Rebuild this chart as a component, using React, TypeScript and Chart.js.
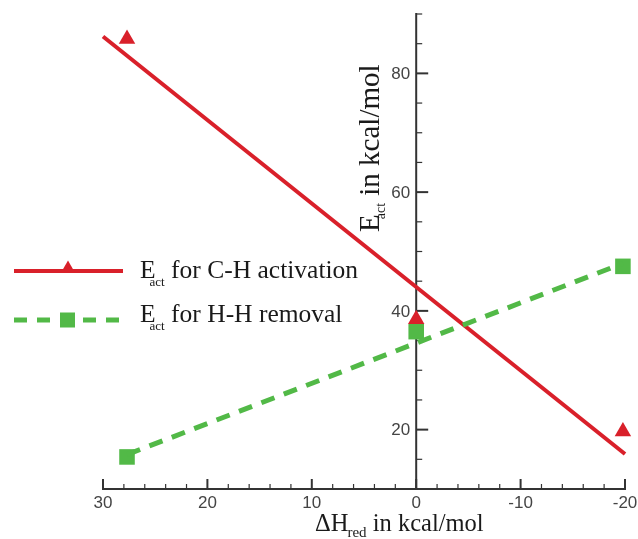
import React, { useEffect, useRef } from "react";
import { Chart, registerables } from "chart.js";

Chart.register(...registerables);

// ---- data ----
const xPoints = [27.7, 0, -19.8];
const chActivation = [85.8, 38.6, 19.7];
const hhRemoval = [15.4, 36.5, 47.5];
const chFitX = [30, -20];
const chFitY = [86.2, 15.9];
const hhFitX = [27.7, -19.8];
const hhFitY = [15.8, 48.0];

const xMajorTicks = [30, 20, 10, 0, -10, -20];
const xMinorTicks = [28, 26, 24, 22, 18, 16, 14, 12, 8, 6, 4, 2, -2, -4, -6, -8, -12, -14, -16, -18];
const yMajorTicks = [20, 40, 60, 80];
const yMinorTicks = [15, 25, 30, 35, 45, 50, 55, 65, 70, 75, 85, 90];

const xTitleParts = ["\u0394H", "red", " in kcal/mol"];
const yTitleParts = ["E", "act", " in kcal/mol"];
const legendMain = ["E", "E"];
const legendSub = ["act", "act"];
const legendRest = [" for C-H activation", " for H-H removal"];

const RED = "#d9202a";
const GREEN = "#52b947";
const AXIS = "#333333";
const SERIF = "'Liberation Serif', 'Times New Roman', serif";
const SANS = "'Liberation Sans', Arial, sans-serif";

function drawSubText(
  ctx: CanvasRenderingContext2D,
  x: number,
  y: number,
  parts: string[],
  size: number,
  subSize: number,
  subDrop: number,
  subBack: number
) {
  ctx.textAlign = "left";
  ctx.textBaseline = "alphabetic";
  ctx.font = `${size}px ${SERIF}`;
  ctx.fillText(parts[0], x, y);
  let cx = x + ctx.measureText(parts[0]).width - subBack;
  ctx.font = `${subSize}px ${SERIF}`;
  ctx.fillText(parts[1], cx, y + subDrop);
  cx += ctx.measureText(parts[1]).width;
  ctx.font = `${size}px ${SERIF}`;
  ctx.fillText(parts[2], cx, y);
}

export default function App() {
  const ref = useRef<HTMLCanvasElement>(null);

  useEffect(() => {
    const canvas = ref.current;
    if (!canvas) return;

    const customAxes = {
      id: "customAxes",
      beforeDatasetsDraw(chart: any) {
        const ctx: CanvasRenderingContext2D = chart.ctx;
        const xs = chart.scales.x;
        const ys = chart.scales.y;
        const x0 = xs.getPixelForValue(0);
        const yb = ys.getPixelForValue(10);
        const yt = ys.getPixelForValue(90);
        const xl = xs.getPixelForValue(30);
        const xr = xs.getPixelForValue(-20);
        ctx.save();
        ctx.strokeStyle = AXIS;
        ctx.lineWidth = 2;
        ctx.lineCap = "butt";
        // x axis
        ctx.beginPath();
        ctx.moveTo(xl - 1, yb);
        ctx.lineTo(xr + 1, yb);
        ctx.stroke();
        // y axis
        ctx.beginPath();
        ctx.moveTo(x0, yb + 1);
        ctx.lineTo(x0, yt - 1);
        ctx.stroke();
        // x ticks (pointing up)
        ctx.lineWidth = 2;
        xMajorTicks.forEach((v) => {
          const p = xs.getPixelForValue(v);
          ctx.beginPath();
          ctx.moveTo(p, yb);
          ctx.lineTo(p, yb - 10);
          ctx.stroke();
        });
        ctx.lineWidth = 1.2;
        xMinorTicks.forEach((v) => {
          const p = xs.getPixelForValue(v);
          ctx.beginPath();
          ctx.moveTo(p, yb);
          ctx.lineTo(p, yb - 5);
          ctx.stroke();
        });
        // y ticks (pointing right)
        ctx.lineWidth = 2;
        yMajorTicks.forEach((v) => {
          const p = ys.getPixelForValue(v);
          ctx.beginPath();
          ctx.moveTo(x0, p);
          ctx.lineTo(x0 + 12, p);
          ctx.stroke();
        });
        ctx.lineWidth = 1.2;
        yMinorTicks.forEach((v) => {
          const p = ys.getPixelForValue(v);
          ctx.beginPath();
          ctx.moveTo(x0, p);
          ctx.lineTo(x0 + 6, p);
          ctx.stroke();
        });
        // tick labels
        ctx.fillStyle = "#444444";
        ctx.font = `17px ${SANS}`;
        ctx.textAlign = "center";
        ctx.textBaseline = "middle";
        xMajorTicks.forEach((v) => {
          ctx.fillText(String(v), xs.getPixelForValue(v), yb + 14);
        });
        ctx.textAlign = "right";
        yMajorTicks.forEach((v) => {
          ctx.fillText(String(v), x0 - 6, ys.getPixelForValue(v) + 1);
        });
        ctx.restore();
      },
      afterDatasetsDraw(chart: any) {
        const ctx: CanvasRenderingContext2D = chart.ctx;
        ctx.save();
        ctx.fillStyle = "#1a1a1a";
        // x title
        drawSubText(ctx, 315, 531, xTitleParts, 24.5, 15, 6, 1);
        // y title (rotated)
        ctx.save();
        ctx.translate(379, 232);
        ctx.rotate(-Math.PI / 2);
        drawSubText(ctx, 0, 0, yTitleParts, 29, 14, 6, 5);
        ctx.restore();

        // legend row 1: red solid line with triangle
        ctx.strokeStyle = RED;
        ctx.lineWidth = 4;
        ctx.setLineDash([]);
        ctx.beginPath();
        ctx.moveTo(14, 271);
        ctx.lineTo(123, 271);
        ctx.stroke();
        ctx.fillStyle = RED;
        const r = 7.5;
        ctx.beginPath();
        ctx.moveTo(68, 268 - r);
        ctx.lineTo(68 + r * 0.866, 268 + r / 2);
        ctx.lineTo(68 - r * 0.866, 268 + r / 2);
        ctx.closePath();
        ctx.fill();
        // legend row 2: green dashed with square
        ctx.strokeStyle = GREEN;
        ctx.lineWidth = 5;
        ctx.setLineDash([13, 10]);
        ctx.beginPath();
        ctx.moveTo(14, 320);
        ctx.lineTo(121, 320);
        ctx.stroke();
        ctx.setLineDash([]);
        ctx.fillStyle = GREEN;
        ctx.fillRect(60, 312.5, 15, 15);

        ctx.fillStyle = "#1a1a1a";
        drawSubText(ctx, 140, 278, [legendMain[0], legendSub[0], legendRest[0]], 25.5, 13, 8, 6);
        drawSubText(ctx, 140, 322, [legendMain[1], legendSub[1], legendRest[1]], 25.5, 13, 8, 6);
        ctx.restore();
      },
    };

    const chart = new Chart(canvas, {
      type: "scatter",
      data: {
        datasets: [
          {
            label: "H-H fit",
            data: hhFitX.map((x, i) => ({ x, y: hhFitY[i] })),
            showLine: true,
            borderColor: GREEN,
            borderWidth: 5,
            borderDash: [14, 10],
            pointRadius: 0,
            clip: false as any,
          },
          {
            label: "C-H fit",
            data: chFitX.map((x, i) => ({ x, y: chFitY[i] })),
            showLine: true,
            borderColor: RED,
            borderWidth: 4,
            pointRadius: 0,
            clip: false as any,
          },
          {
            label: "Eact for C-H activation",
            data: xPoints.map((x, i) => ({ x, y: chActivation[i] })),
            showLine: false,
            pointStyle: "triangle",
            pointRadius: 9.5,
            backgroundColor: RED,
            borderColor: RED,
            borderWidth: 0,
            clip: false as any,
          },
          {
            label: "Eact for H-H removal",
            data: xPoints.map((x, i) => ({ x, y: hhRemoval[i] })),
            showLine: false,
            pointStyle: "rect",
            pointRadius: 11,
            backgroundColor: GREEN,
            borderColor: GREEN,
            borderWidth: 0,
            clip: false as any,
          },
        ],
      },
      options: {
        animation: false,
        responsive: false,
        events: [],
        layout: { padding: { left: 103, right: 13, top: 14, bottom: 50 } },
        scales: {
          x: { type: "linear", display: false, min: -20, max: 30, reverse: true },
          y: { type: "linear", display: false, min: 10, max: 90 },
        },
        plugins: {
          legend: { display: false },
          tooltip: { enabled: false },
          title: { display: false },
        },
      },
      plugins: [customAxes],
    });

    return () => chart.destroy();
  }, []);

  return (
    <div
      style={{
        position: "absolute",
        left: 0,
        top: 0,
        width: 638,
        height: 539,
        background: "#ffffff",
      }}
    >
      <canvas ref={ref} width={638} height={539} style={{ display: "block" }} />
    </div>
  );
}
